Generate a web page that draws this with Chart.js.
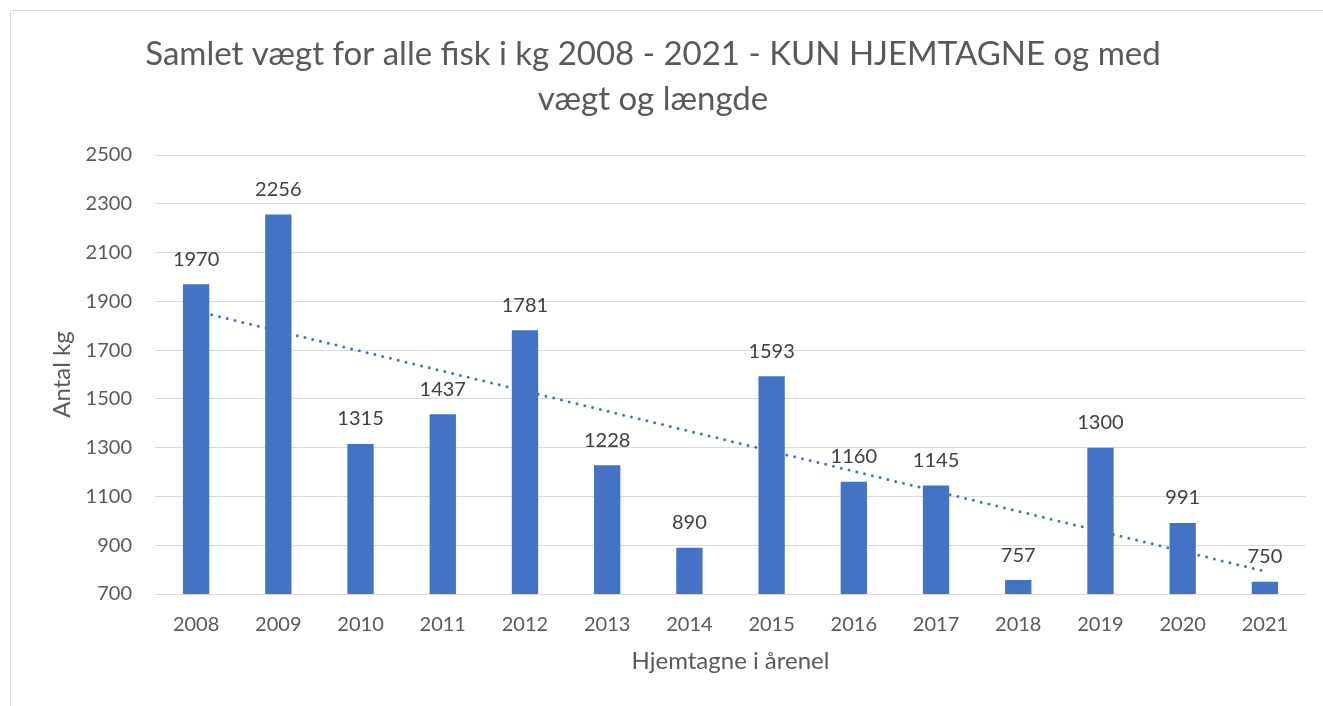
<!DOCTYPE html>
<html>
<head>
<meta charset="utf-8">
<script src="https://cdn.jsdelivr.net/npm/chart.js@4/dist/chart.umd.min.js"></script>
<style>
  html, body { margin: 0; padding: 0; background: #fff; }
  #wrap { width: 1323px; height: 706px; position: relative; }
</style>
</head>
<body>
<div id="wrap"><canvas id="c" width="1323" height="706"></canvas></div>
<script>
const categories = ['2008','2009','2010','2011','2012','2013','2014','2015','2016','2017','2018','2019','2020','2021'];
const weightKg = [1970, 2256, 1315, 1437, 1781, 1228, 890, 1593, 1160, 1145, 757, 1300, 991, 750];
const titleLines = ['Samlet vægt for alle fisk i kg 2008 - 2021 - KUN HJEMTAGNE og med', 'vægt og længde'];
const yAxisTitle = 'Antal kg';
const xAxisTitle = 'Hjemtagne i årenel';
const yMin = 700, yMax = 2500, yStep = 200;

// Linear trendline (least squares) computed from the data
function linearTrend(vals) {
  const n = vals.length;
  let sx = 0, sy = 0, sxy = 0, sxx = 0;
  vals.forEach((v, i) => { const x = i + 1; sx += x; sy += v; sxy += x * v; sxx += x * x; });
  const slope = (n * sxy - sx * sy) / (n * sxx - sx * sx);
  const icpt = (sy - slope * sx) / n;
  return vals.map((_, i) => icpt + slope * (i + 1));
}
const trend = linearTrend(weightKg);

const FONT = 'Lato, "Open Sans", sans-serif';
const BLUE = '#4472C4';

const borderPlugin = {
  id: 'frame',
  beforeDraw(chart) {
    const ctx = chart.ctx;
    ctx.save();
    ctx.strokeStyle = '#d9d9d9';
    ctx.lineWidth = 1;
    ctx.beginPath();
    ctx.moveTo(10.5, 706);
    ctx.lineTo(10.5, 10.5);
    ctx.lineTo(1323, 10.5);
    ctx.stroke();
    ctx.restore();
  }
};

const labelPlugin = {
  id: 'valueLabels',
  afterDatasetsDraw(chart) {
    const ctx = chart.ctx;
    const meta = chart.getDatasetMeta(0);
    ctx.save();
    ctx.font = '20px ' + FONT;
    ctx.fillStyle = '#404040';
    ctx.textAlign = 'center';
    ctx.textBaseline = 'middle';
    meta.data.forEach((bar, i) => {
      ctx.fillText(String(weightKg[i]), bar.x, bar.y - 25);
    });
    ctx.restore();
  }
};

new Chart(document.getElementById('c'), {
  type: 'bar',
  data: {
    labels: categories,
    datasets: [
      {
        type: 'bar',
        data: weightKg,
        backgroundColor: BLUE,
        borderWidth: 0,
        categoryPercentage: 1,
        barPercentage: 0.32,
        order: 1
      },
      {
        type: 'line',
        data: trend,
        borderColor: BLUE,
        borderWidth: 3,
        borderDash: [0, 8],
        borderCapStyle: 'round',
        pointRadius: 0,
        fill: false,
        tension: 0,
        order: 2
      }
    ]
  },
  options: {
    responsive: false,
    animation: false,
    devicePixelRatio: 1,
    layout: { padding: { left: 0, right: 17, top: 0, bottom: 0 } },
    plugins: {
      legend: { display: false },
      tooltip: { enabled: false },
      title: {
        display: true,
        text: titleLines,
        color: '#595959',
        font: { family: FONT, size: 33, weight: 'normal', lineHeight: 1.364 },
        padding: { top: 32, bottom: 33 }
      }
    },
    scales: {
      x: {
        grid: { display: false, drawTicks: false },
        border: { display: false },
        ticks: { color: '#595959', font: { family: FONT, size: 20 }, padding: 19, maxRotation: 0 },
        title: { display: true, text: xAxisTitle, color: '#595959', font: { family: FONT, size: 24, lineHeight: 1.2 }, padding: { top: 30, bottom: 30 } },
        afterFit(scale) { scale.height = 112; }
      },
      y: {
        min: yMin,
        max: yMax,
        ticks: { stepSize: yStep, color: '#595959', font: { family: FONT, size: 20 }, padding: 23, callback: (v) => String(v) },
        grid: { color: '#d9d9d9', lineWidth: 1, drawTicks: false },
        border: { display: false },
        title: { display: true, text: yAxisTitle, color: '#595959', font: { family: FONT, size: 24, lineHeight: 1.2 }, padding: { top: 48, bottom: 48 } },
        afterFit(scale) { scale.width = 155; }
      }
    }
  },
  plugins: [borderPlugin, labelPlugin]
});
</script>
</body>
</html>
